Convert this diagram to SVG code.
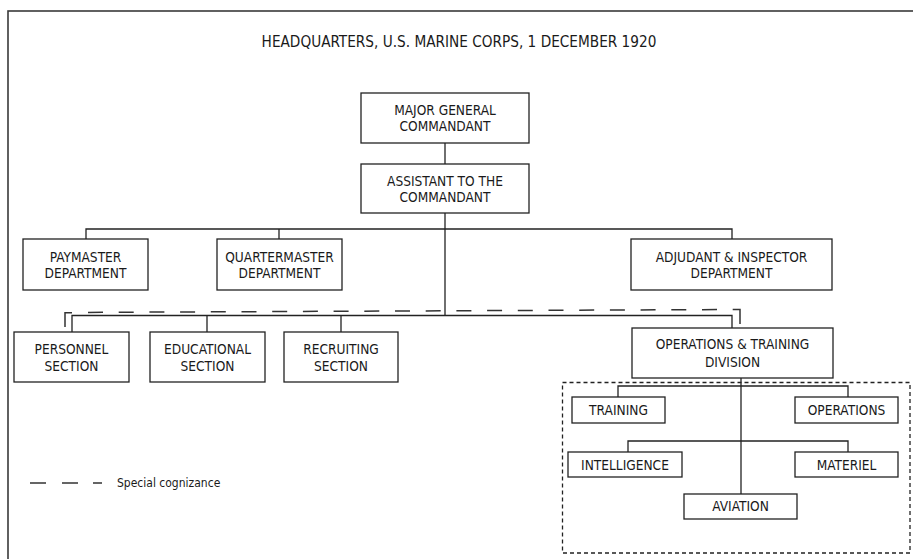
<svg xmlns="http://www.w3.org/2000/svg" width="913" height="559" viewBox="0 0 913 559">
<style>
  .bg{fill:#ffffff}
  .frame{fill:none;stroke:#3a3a3a;stroke-width:1.6}
  .box{fill:#ffffff;stroke:#222;stroke-width:1.3}
  .ln{fill:none;stroke:#222;stroke-width:1.3}
  .dash{fill:none;stroke:#333;stroke-width:1.5;stroke-dasharray:15 15.7}
  .dashs{fill:none;stroke:#333;stroke-width:1.5}
  .dot{fill:none;stroke:#222;stroke-width:1.3;stroke-dasharray:4 3}
  text{font-family:"DejaVu Sans Condensed","Liberation Sans",sans-serif;fill:#1a1a1a;text-anchor:middle;font-size:13.6px}
  .title{font-size:15.2px}
  .legend{font-size:12px;text-anchor:start}
</style>
<rect class="bg" x="0" y="0" width="913" height="559"/>
<rect class="frame" x="8" y="11" width="920" height="570"/>
<text class="title" x="459" y="47">HEADQUARTERS, U.S. MARINE CORPS, 1 DECEMBER 1920</text>

<g id="connectors">
  <path class="ln" d="M445,143V164"/>
  <path class="ln" d="M445,213V315.5"/>
  <path class="ln" d="M86,239V229H732V239M279,229V239"/>
  <path class="ln" d="M72,332V315.5H732V328M207,315.5V332M341,315.5V332"/>
  <path class="ln" d="M741,378V494"/>
  <path class="ln" d="M618,397V386H848V397"/>
  <path class="ln" d="M628,452V441H848V452"/>
  <path class="dashs" d="M65,327V312.7H72"/>
  <path class="dash" d="M88,312.4L733,309.5"/>
  <path class="dashs" d="M733,309.5H740V324"/>
</g>

<rect id="subgroup" class="dot" x="562.5" y="382.5" width="347.5" height="170.5"/>

<g id="n-commandant"><rect class="box" x="361" y="93" width="168" height="50"/><text x="445" y="115">MAJOR GENERAL</text><text x="445" y="131">COMMANDANT</text></g>
<g id="n-assistant"><rect class="box" x="361" y="164" width="168" height="49"/><text x="445" y="185.5">ASSISTANT TO THE</text><text x="445" y="201.5">COMMANDANT</text></g>
<g id="n-paymaster"><rect class="box" x="23" y="239" width="125" height="51"/><text x="85.5" y="262">PAYMASTER</text><text x="85.5" y="278">DEPARTMENT</text></g>
<g id="n-quartermaster"><rect class="box" x="217" y="239" width="125" height="51"/><text x="279.5" y="262">QUARTERMASTER</text><text x="279.5" y="278">DEPARTMENT</text></g>
<g id="n-adjudant"><rect class="box" x="631" y="239" width="201" height="51"/><text x="731.5" y="262">ADJUDANT &amp; INSPECTOR</text><text x="731.5" y="278">DEPARTMENT</text></g>
<g id="n-personnel"><rect class="box" x="14" y="332" width="115" height="50"/><text x="71.5" y="354">PERSONNEL</text><text x="71.5" y="370.5">SECTION</text></g>
<g id="n-educational"><rect class="box" x="150" y="332" width="115" height="50"/><text x="207.5" y="354">EDUCATIONAL</text><text x="207.5" y="370.5">SECTION</text></g>
<g id="n-recruiting"><rect class="box" x="284" y="332" width="114" height="50"/><text x="341" y="354">RECRUITING</text><text x="341" y="370.5">SECTION</text></g>
<g id="n-opstraining"><rect class="box" x="632" y="328" width="201" height="50"/><text x="732.5" y="348.5">OPERATIONS &amp; TRAINING</text><text x="732.5" y="366.5">DIVISION</text></g>
<g id="n-training"><rect class="box" x="572" y="397" width="93" height="26"/><text x="618.5" y="415">TRAINING</text></g>
<g id="n-operations"><rect class="box" x="795" y="397" width="103" height="26"/><text x="846.5" y="415">OPERATIONS</text></g>
<g id="n-intelligence"><rect class="box" x="568" y="452" width="114" height="25"/><text x="625" y="469.5">INTELLIGENCE</text></g>
<g id="n-materiel"><rect class="box" x="795" y="452" width="103" height="25"/><text x="846.5" y="469.5">MATERIEL</text></g>
<g id="n-aviation"><rect class="box" x="684" y="494" width="113" height="25"/><text x="740.5" y="511">AVIATION</text></g>

<g id="legend">
  <path class="dashs" d="M30,483H46M62,483H78M93,483H102"/>
  <text class="legend" x="117" y="487">Special cognizance</text>
</g>
</svg>
